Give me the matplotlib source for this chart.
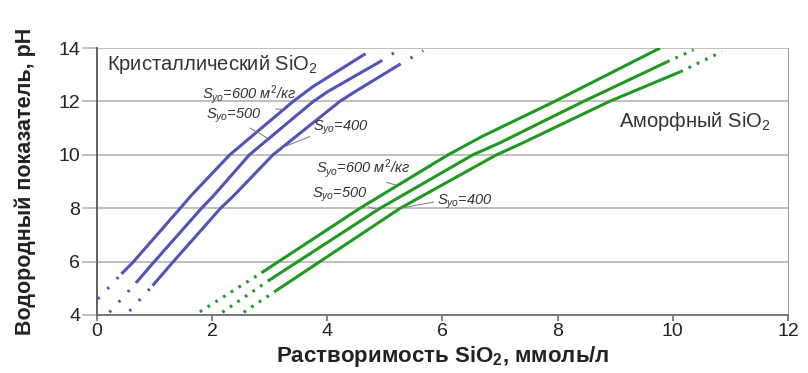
import numpy as np
import matplotlib
matplotlib.use("Agg")
import matplotlib.pyplot as plt

plt.rcParams['font.family'] = ['Liberation Sans', 'DejaVu Sans']
plt.rcParams['mathtext.fontset'] = 'custom'
plt.rcParams['mathtext.rm'] = 'Liberation Sans'
plt.rcParams['mathtext.it'] = 'Liberation Sans:italic'
plt.rcParams['mathtext.bf'] = 'Liberation Sans:bold'

# ---- data ----
# crystalline SiO2 (blue): S = 600, 500, 400 m2/kg
cr600_x = [0.43, 0.64, 1.45, 1.65, 2.31, 3.41, 3.75, 4.63]
cr600_y = [5.54, 6.0, 8.0, 8.5, 10.0, 12.0, 12.55, 13.74]
cr500_x = [0.68, 1.0, 1.82, 2.02, 2.65, 3.76, 4.02, 4.92]
cr500_y = [5.2, 6.0, 8.0, 8.45, 10.0, 12.0, 12.38, 13.49]
cr400_x = [0.97, 1.33, 2.15, 2.37, 3.06, 4.22, 4.45, 5.24]
cr400_y = [5.1, 6.0, 8.0, 8.45, 10.0, 12.0, 12.32, 13.36]
# dotted extrapolation (start point at low pH, end point at high pH)
cr_low_x = [0.02, 0.22, 0.57]
cr_low_y = [4.6, 4.1, 4.15]
cr_high_x = [4.8, 5.24, 5.67]
cr_high_y = [13.95, 13.93, 13.9]

# amorphous SiO2 (green)
am600_x = [2.86, 4.57, 6.1, 6.7, 7.95, 9.78]
am600_y = [5.58, 8.0, 10.0, 10.7, 12.0, 14.0]
am500_x = [2.97, 4.92, 6.53, 7.0, 8.45, 9.9]
am500_y = [5.27, 8.0, 10.0, 10.45, 12.0, 13.48]
am400_x = [3.12, 5.27, 6.94, 7.35, 8.9, 10.13]
am400_y = [4.92, 8.0, 10.0, 10.4, 12.0, 13.11]
am_low_x = [1.79, 2.18, 2.55]
am_low_y = [4.12, 4.1, 4.1]
am_high_x = [None, 10.36, 10.85]
am_high_y = [None, 13.93, 13.86]

surfaces = ["600", "500", "400"]
x_ticks = [0, 2, 4, 6, 8, 10, 12]
y_ticks = [4, 6, 8, 10, 12, 14]

blue = "#5252b8"
green = "#1f991f"

fig = plt.figure(figsize=(8.08, 3.73), dpi=100)
ax = fig.add_axes([0.1197, 0.1555, 0.8556, 0.7158])


def draw(xs, ys, lx, ly, hx, hy, color, dots):
    ax.plot(xs, ys, color=color, lw=2.2, solid_capstyle='butt', zorder=3)
    ax.plot([lx, xs[0]], [ly, ys[0]], color=color, lw=2.2,
            linestyle=(0, dots), zorder=3)
    if hx is not None:
        ax.plot([xs[-1], hx], [ys[-1], hy], color=color, lw=2.2,
                linestyle=(0, dots), zorder=3)


cr = [(cr600_x, cr600_y), (cr500_x, cr500_y), (cr400_x, cr400_y)]
am = [(am600_x, am600_y), (am500_x, am500_y), (am400_x, am400_y)]
for i, (xs, ys) in enumerate(cr):
    draw(xs, ys, cr_low_x[i], cr_low_y[i], cr_high_x[i], cr_high_y[i], blue, (0.8, 3.7))
for i, (xs, ys) in enumerate(am):
    draw(xs, ys, am_low_x[i], am_low_y[i], am_high_x[i], am_high_y[i], green, (0.9, 2.1))

ax.set_xlim(0, 12)
ax.set_ylim(4, 14)
ax.set_xticks(x_ticks)
ax.set_yticks(y_ticks)
ax.tick_params(axis='y', length=11, width=1.2, color="#b4b4b4", pad=1, labelsize=14)
ax.tick_params(axis='x', length=4, width=1.2, color="#707070", pad=2, labelsize=14)
ax.grid(axis='y', color="#b4b4b4", lw=1.2, zorder=1)
ax.spines['left'].set_color("#555555")
ax.spines['left'].set_linewidth(1.3)
ax.spines['bottom'].set_color("#707070")
ax.spines['bottom'].set_linewidth(1.3)
ax.spines['right'].set_color("#a0a0a0")
ax.spines['top'].set_visible(False)
for t in ax.get_xticklabels() + ax.get_yticklabels():
    t.set_color("#222222")

ax.set_xlabel(r"Растворимость SiO$_\mathbf{2}$, ммоль/л", fontsize=16,
              fontweight='bold', color="#222222", labelpad=3)
ax.set_ylabel("Водородный показатель, pH", fontsize=15.5, fontweight='bold',
              color="#222222", labelpad=16)

ax.text(0.18, 13.4, r"Кристаллический SiO$_2$", fontsize=14.5, color="#333333",
        va='center')
ax.text(11.69, 11.25, r"Аморфный SiO$_2$", fontsize=14.5, color="#333333",
        va='center', ha='right')


def label(xs, ys, s, txt_x, txt_y, y_on, start, ha='left'):
    x_on = np.interp(y_on, ys, xs)
    ax.annotate(r"$S_{уо}$=" + s, xy=(x_on, y_on), xytext=(txt_x, txt_y),
                fontsize=10.5, fontstyle='italic', color="#333333",
                ha=ha, va='center',
                arrowprops=dict(arrowstyle='-', color="#777777", lw=0.7,
                                shrinkA=0, shrinkB=0,
                                relpos=start), zorder=4)


unit = r" м$^{2}$/кг"
label(cr600_x, cr600_y, surfaces[0] + unit, 1.83, 12.25, 11.7, (0.25, 0.0))
label(cr500_x, cr500_y, surfaces[1], 1.9, 11.45, 10.6, (0.7, 0.0))
label(cr400_x, cr400_y, surfaces[2], 3.75, 11.0, 10.27, (0.0, 0.1))
label(am600_x, am600_y, surfaces[0] + unit, 3.8, 9.5, 8.85, (0.65, 0.0))
label(am500_x, am500_y, surfaces[1], 3.73, 8.5, 7.95, (0.85, 0.0))
label(am400_x, am400_y, surfaces[2], 5.9, 8.25, 8.0, (0.0, 0.5))

fig.savefig("out.png", dpi=100)
